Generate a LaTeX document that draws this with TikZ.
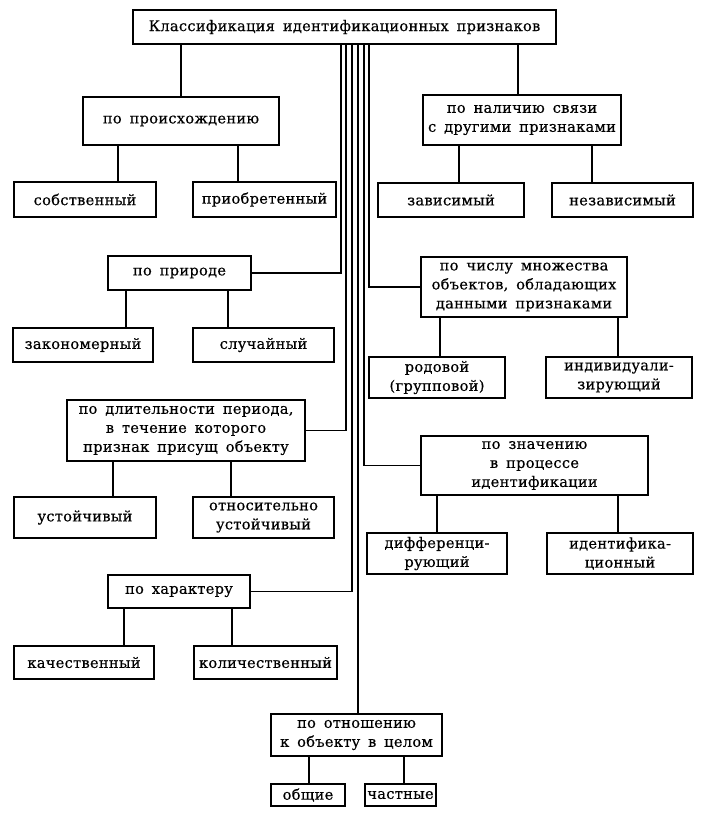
\documentclass[tikz,border=0pt]{standalone}
\usepackage{fontspec}
\setmainfont{DejaVu Serif}[LetterSpace=2, WordSpace=1.6, FakeBold=0.4]
\begin{document}
\begin{tikzpicture}[x=1pt,y=-1pt,
  box/.style={draw, line width=1.7pt, inner sep=0pt, align=center,
    font=\fontsize{14.6}{19}\selectfont},
  conn/.style={line width=1.7pt}]
\useasboundingbox[fill=white] (0,0) rectangle (702,814);
% boxes
\node[box, minimum width=423pt, minimum height=34pt] (top) at (344.5,27) {Классификация идентификационных признаков};
\node[box, minimum width=196pt, minimum height=48pt] (orig) at (181,121) {по происхождению};
\node[box, minimum width=142pt, minimum height=35pt] (sobst) at (85,199.5) {собственный};
\node[box, minimum width=143pt, minimum height=35pt] (priobr) at (264.5,199.5) {приобретенный};
\node[box, minimum width=198pt, minimum height=50pt] (nal) at (522,120) {по наличию связи\\с другими признаками};
\node[box, minimum width=146pt, minimum height=34pt] (zav) at (451,200) {зависимый};
\node[box, minimum width=141pt, minimum height=34pt] (nezav) at (622.5,200) {независимый};
\node[box, minimum width=143pt, minimum height=34pt] (prir) at (179.5,273) {по природе};
\node[box, minimum width=140pt, minimum height=34pt] (zakon) at (83,345) {закономерный};
\node[box, minimum width=141pt, minimum height=34pt] (sluch) at (263.5,345) {случайный};
\node[box, minimum width=206pt, minimum height=60pt] (chislo) at (524,287) {по числу множества\\объектов, обладающих\\данными признаками};
\node[box, minimum width=136pt, minimum height=41pt] (rod) at (437,377.5) {родовой\\(групповой)};
\node[box, minimum width=146pt, minimum height=41pt] (indiv) at (619,377.5) {индивидуали-\\зирующий};
\node[box, minimum width=238pt, minimum height=61pt] (dlit) at (186,430.5) {по длительности периода,\\в течение которого\\признак присущ объекту};
\node[box, minimum width=142pt, minimum height=41pt] (ust) at (85,517.5) {устойчивый};
\node[box, minimum width=141pt, minimum height=41pt] (otnos) at (263.5,517.5) {относительно\\устойчивый};
\node[box, minimum width=227pt, minimum height=59pt] (znach) at (534.5,465.5) {по значению\\в процессе\\идентификации};
\node[box, minimum width=140pt, minimum height=41pt] (diff) at (437,553.5) {дифференци-\\рующий};
\node[box, minimum width=146pt, minimum height=41pt] (ident) at (620,553.5) {идентифика-\\ционный};
\node[box, minimum width=142pt, minimum height=33pt] (harakt) at (179,591.5) {по характеру};
\node[box, minimum width=140pt, minimum height=33pt] (kach) at (84,662.5) {качественный};
\node[box, minimum width=143pt, minimum height=33pt] (kolich) at (265.5,662.5) {количественный};
\node[box, minimum width=171pt, minimum height=42pt] (otnosh) at (356.5,735) {по отношению\\к объекту в целом};
\node[box, minimum width=74pt, minimum height=22pt] (obsh) at (308,795) {общие};
\node[box, minimum width=71pt, minimum height=22pt] (chast) at (400.5,795) {частные};
% spine from top box
\draw[conn] (top.south -| 181,0) -- (orig.north -| 181,0);
\draw[conn] (top.south -| 518,0) -- (nal.north -| 518,0);
\draw[conn] (top.south -| 341,0) |- (prir.east);
\draw[conn] (top.south -| 346,0) |- (dlit.east);
\draw[conn] (top.south -| 352,0) |- (harakt.east);
\draw[conn] (top.south -| 358,0) -- (otnosh.north -| 358,0);
\draw[conn] (top.south -| 364,0) |- (znach.west);
\draw[conn] (top.south -| 369,0) |- (chislo.west);
% children
\draw[conn] (orig.south -| 118,0) -- (sobst.north -| 118,0);
\draw[conn] (orig.south -| 238,0) -- (priobr.north -| 238,0);
\draw[conn] (nal.south -| 459,0) -- (zav.north -| 459,0);
\draw[conn] (nal.south -| 592,0) -- (nezav.north -| 592,0);
\draw[conn] (prir.south -| 126,0) -- (zakon.north -| 126,0);
\draw[conn] (prir.south -| 228,0) -- (sluch.north -| 228,0);
\draw[conn] (chislo.south -| 440,0) -- (rod.north -| 440,0);
\draw[conn] (chislo.south -| 618,0) -- (indiv.north -| 618,0);
\draw[conn] (dlit.south -| 113,0) -- (ust.north -| 113,0);
\draw[conn] (dlit.south -| 231,0) -- (otnos.north -| 231,0);
\draw[conn] (znach.south -| 437,0) -- (diff.north -| 437,0);
\draw[conn] (znach.south -| 618,0) -- (ident.north -| 618,0);
\draw[conn] (harakt.south -| 124,0) -- (kach.north -| 124,0);
\draw[conn] (harakt.south -| 232,0) -- (kolich.north -| 232,0);
\draw[conn] (otnosh.south -| 309,0) -- (obsh.north -| 309,0);
\draw[conn] (otnosh.south -| 404,0) -- (chast.north -| 404,0);
\end{tikzpicture}
\end{document}
